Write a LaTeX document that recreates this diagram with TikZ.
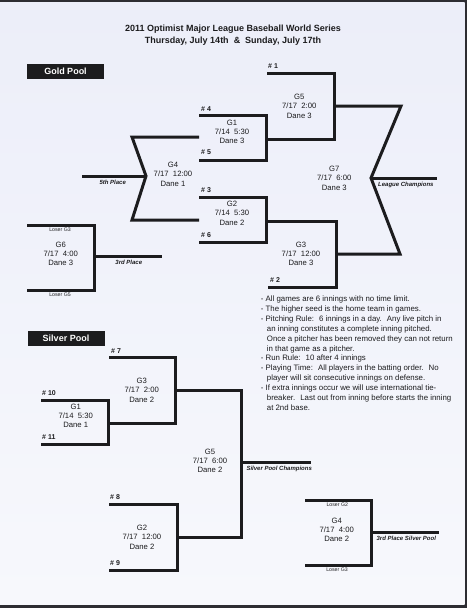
\documentclass[tikz,border=0pt]{standalone}
\usepackage{fontspec}
\setmainfont{Liberation Sans}
\definecolor{paper}{RGB}{236,238,249}
\definecolor{paperlow}{RGB}{247,248,252}
\definecolor{ink}{RGB}{28,28,30}
\definecolor{frame}{RGB}{45,45,50}

\begin{document}
\begin{tikzpicture}[x=1pt,y=-1pt,
    bracket/.style={line width=3pt,draw=ink,line join=miter},
    game/.style={font=\fontsize{7.7}{9.2}\selectfont,align=center,text=ink,inner sep=0pt},
    seed/.style={font=\fontsize{7}{7}\selectfont\bfseries,text=ink,anchor=west,inner sep=0pt},
    place/.style={font=\fontsize{6}{7}\selectfont\bfseries\itshape,text=ink,inner sep=0pt},
    loser/.style={font=\fontsize{5.2}{6}\selectfont,text=ink,inner sep=0pt},
    pool/.style={fill=ink,text=white,font=\fontsize{9}{10}\selectfont\bfseries,
                 minimum width=77pt,minimum height=15pt,inner sep=0pt}]

  % --- the sheet and its dark scan edge ---
  \useasboundingbox (0,0) rectangle (467,608);
  \fill[frame] (0,0) rectangle (467,608);
  \shade[top color=paper,bottom color=paperlow] (0,2) rectangle (464.5,604);

  % --- heading ---
  \node[font=\fontsize{9}{12}\selectfont\bfseries,text=ink,align=center] (title) at (233,35)
    {2011 Optimist Major League Baseball World Series\\Thursday, July 14th \ \& \ Sunday, July 17th};

  % --- gold pool: the winners' side ---
  \node[pool] (gold) at (65.5,71.5) {Gold Pool};
  \draw[bracket] (267,73) -- (334,73) -- (334,139) -- (266,139);        % G5
  \draw[bracket] (199,115.7) -- (266,115.7) -- (266,160.7) -- (199,160.7); % G1
  \draw[bracket] (199,197.3) -- (266,197.3) -- (266,242.3) -- (199,242.3); % G2
  \draw[bracket] (266,221.7) -- (336,221.7) -- (336,287.3) -- (268,287.3); % G3
  \draw[bracket] (334,106) -- (401,106) -- (371,178) -- (400,254) -- (336,254); % G7
  \draw[bracket] (371,178) -- (437,178);                                 % champions

  % --- gold pool: the losers' games ---
  \draw[bracket] (199,137) -- (132,137) -- (146,176) -- (132,220) -- (199,220); % G4
  \draw[bracket] (82,176) -- (146,176);                                  % 5th place
  \draw[bracket] (27,225) -- (94,225) -- (94,290) -- (27,290);           % G6
  \draw[bracket] (94,256.7) -- (162,256.7);                              % 3rd place

  % --- gold pool lettering ---
  \node[seed] (s1) at (268,66)    {\# 1};
  \node[seed] (s4) at (201,109.3) {\# 4};
  \node[seed] (s5) at (201,152.3) {\# 5};
  \node[seed] (s3) at (201,190)   {\# 3};
  \node[seed] (s6) at (201,235)   {\# 6};
  \node[seed] (s2) at (270,280)   {\# 2};
  \node[game] (g5) at (299.3,106.3) {G5\\7/17 \ 2:00\\Dane 3};
  \node[game] (g1) at (232,131.7)   {G1\\7/14 \ 5:30\\Dane 3};
  \node[game] (g2) at (232,213.3)   {G2\\7/14 \ 5:30\\Dane 2};
  \node[game] (g4) at (173,174.3)   {G4\\7/17 \ 12:00\\Dane 1};
  \node[game] (g7) at (334.3,178.3) {G7\\7/17 \ 6:00\\Dane 3};
  \node[game] (g3) at (301,254)     {G3\\7/17 \ 12:00\\Dane 3};
  \node[game] (g6) at (60.7,253.7)  {G6\\7/17 \ 4:00\\Dane 3};
  \node[loser] (lg3) at (60,229.3) {Loser G3};
  \node[loser] (lg5) at (60,294.7) {Loser G5};
  \node[place] (fifth) at (112.7,182.3) {5th Place};
  \node[place] (third) at (128.8,262.7) {3rd Place};
  \node[place,anchor=west] (champ) at (378,185) {League Champions};

  % --- the rules ---
  \node[font=\fontsize{7.85}{9.85}\selectfont,text=ink,align=left,anchor=north west,inner sep=0pt]
    (rules) at (260.7,296) {%
    - All games are 6 innings with no time limit.\\
    - The higher seed is the home team in games.\\
    - Pitching Rule: \ 6 innings in a day. \ Any live pitch in\\
    \hspace*{6pt}an inning constitutes a complete inning pitched.\\
    \hspace*{6pt}Once a pitcher has been removed they can not return\\
    \hspace*{6pt}in that game as a pitcher.\\
    - Run Rule: \ 10 after 4 innings\\
    - Playing Time: \ All players in the batting order. \ No\\
    \hspace*{6pt}player will sit consecutive innings on defense.\\
    - If extra innings occur we will use international tie-\\
    \hspace*{6pt}breaker. \ Last out from inning before starts the inning\\
    \hspace*{6pt}at 2nd base.};

  % --- silver pool ---
  \node[pool] (silver) at (66,338.2) {Silver Pool};
  \draw[bracket] (109,357) -- (175.7,357) -- (175.7,423) -- (108.3,423);   % G3
  \draw[bracket] (41,400) -- (108.3,400) -- (108.3,444.3) -- (41,444.3);   % G1
  \draw[bracket] (175.7,390) -- (241.7,390) -- (241.7,537.3) -- (177.3,537.3); % G5
  \draw[bracket] (241.7,462.3) -- (311,462.3);                             % champions
  \draw[bracket] (109.3,504.3) -- (177.3,504.3) -- (177.3,570) -- (109.3,570); % G2
  \draw[bracket] (305,500.7) -- (371.7,500.7) -- (371.7,565) -- (305,565); % G4
  \draw[bracket] (371.7,532.3) -- (439.3,532.3);                           % 3rd place

  % --- silver pool lettering ---
  \node[seed] (s7)  at (111,351)   {\# 7};
  \node[seed] (s10) at (42,393)    {\# 10};
  \node[seed] (s11) at (42,436.7)  {\# 11};
  \node[seed] (s8)  at (110,496.7) {\# 8};
  \node[seed] (s9)  at (110,562.7) {\# 9};
  \node[game] (sg3) at (141.7,390.3) {G3\\7/17 \ 2:00\\Dane 2};
  \node[game] (sg1) at (75.7,416)    {G1\\7/14 \ 5:30\\Dane 1};
  \node[game] (sg5) at (210,461)     {G5\\7/17 \ 6:00\\Dane 2};
  \node[game] (sg2) at (142,537.3)   {G2\\7/17 \ 12:00\\Dane 2};
  \node[game] (sg4) at (336.7,529.7) {G4\\7/17 \ 4:00\\Dane 2};
  \node[loser] (slg2) at (337.3,505) {Loser G2};
  \node[loser] (slg3) at (337,570)   {Loser G3};
  \node[place,anchor=west] (schamp) at (246.3,468.7) {Silver Pool Champions};
  \node[place] (sthird) at (406.3,538.7) {3rd Place Silver Pool};
\end{tikzpicture}
\end{document}
